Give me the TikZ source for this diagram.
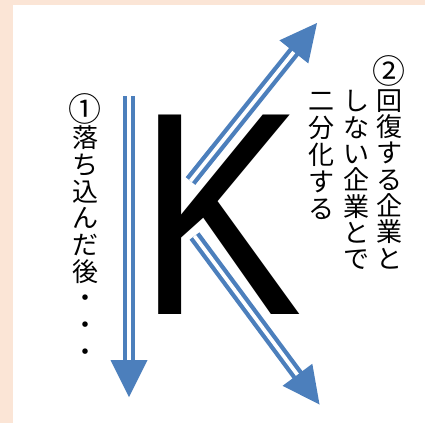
\documentclass[tikz,border=0pt]{standalone}
\usepackage{fontspec}
\usepackage{graphicx}
\newfontfamily\cjk{Noto Sans CJK JP}
\newfontfamily\kfont{Liberation Sans}
\usetikzlibrary{calc}
\definecolor{peach}{RGB}{251,229,214}
\definecolor{arrowblue}{RGB}{76,127,188}
\newcommand\dblarrow[2]{%
  \coordinate (#2b) at ($(#2)!37pt!(#1)$);
  \draw[shaft] (#1) -- ($(#2)!36pt!(#1)$);
  \fill[head] (#2) -- ($(#2b)!18.5pt!90:(#2)$) -- ($(#2b)!18.5pt!-90:(#2)$) -- cycle;}
\begin{document}
\begin{tikzpicture}[x=1pt,y=-1pt,
  jchar/.style={font=\cjk\fontsize{26}{26}\selectfont, inner sep=0pt, text height=22.9pt, text depth=3.1pt, anchor=center},
  jnum/.style={font=\cjk\fontsize{33}{33}\selectfont, inner sep=0pt, text height=23pt, text depth=0pt, anchor=base},
  shaft/.style={draw=arrowblue, line width=4.3pt, double=white, double distance=3.7pt},
  head/.style={fill=arrowblue}]
\fill[peach] (0,0) rectangle (425,423);
\fill[white] (13,5) rectangle (425,423);
\useasboundingbox (0,0) rectangle (425,423);

\node[inner sep=0pt, anchor=base west] (K) at (138,314.3)
  {\kfont\fontsize{100}{100}\selectfont\scalebox{2.46}[2.9]{K}};

\coordinate (s1) at (129,96);
\coordinate (t1) at (129,397);
\coordinate (s2) at (190.5,181);
\coordinate (t2) at (317,23);
\coordinate (s3) at (194.5,236);
\coordinate (t3) at (319.5,404.5);
\dblarrow{s1}{t1}
\dblarrow{s2}{t2}
\dblarrow{s3}{t3}

\node[jnum] (L1) at (85,{108.5+0.38*33}) {①};
\foreach \c [count=\i from 2] in {落,ち,込,ん,だ,後,・,・,・}
  \node[jchar] (L\i) at (85,{111+26.7*(\i-1)}) {\c};
\node[jnum] (A1) at (389,{71+0.38*33}) {②};
\foreach \c [count=\i from 2] in {回,復,す,る,企,業,と}
  \node[jchar] (A\i) at (389,{74+26.3*(\i-1)}) {\c};
\foreach \c [count=\i] in {し,な,い,企,業,と,で}
  \node[jchar] (B\i) at (356,{101+26.3*(\i-1)}) {\c};
\foreach \c [count=\i] in {二,分,化,す,る}
  \node[jchar] (C\i) at (321,{101+26.8*(\i-1)}) {\c};
\end{tikzpicture}
\end{document}
